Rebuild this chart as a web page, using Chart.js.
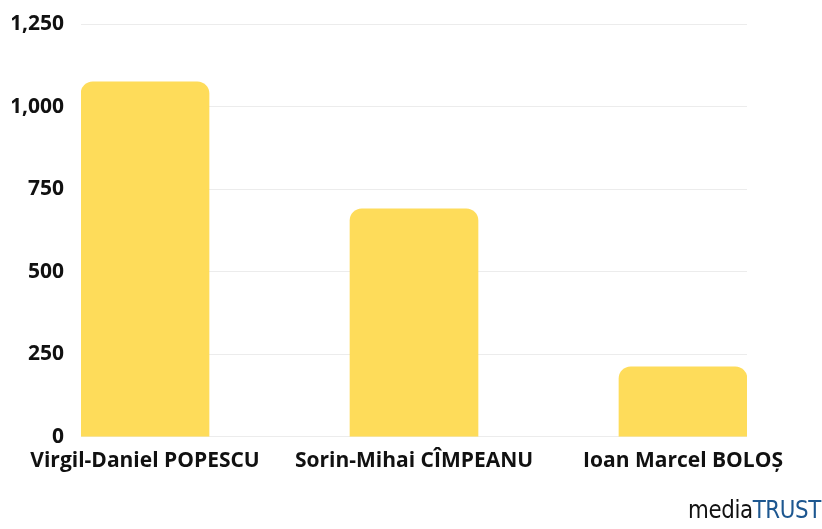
<!DOCTYPE html>
<html lang="ro">
<head>
<meta charset="UTF-8">
<title>Bar chart</title>
<script src="https://cdn.jsdelivr.net/npm/chart.js"></script>
<style>
  html, body { margin: 0; padding: 0; background: #fff; }
  .wrap { position: relative; width: 822px; height: 529px; }
  .logo {
    position: absolute;
    right: 1px;
    bottom: 7px;
    font-family: "Liberation Sans Narrow", "DejaVu Sans Condensed", sans-serif;
    font-size: 25px;
    line-height: 1;
    color: #111;
    letter-spacing: -0.4px;
    transform: scaleX(0.95);
    transform-origin: right bottom;
  }
  .logo span { color: #1d5790; }
</style>
</head>
<body>
<div class="wrap">
  <canvas id="chart" width="822" height="529"></canvas>
  <div class="logo">media<span>TRUST</span></div>
</div>
<script>
const candidates = ['Virgil-Daniel POPESCU', 'Sorin-Mihai CÎMPEANU', 'Ioan Marcel BOLOŞ'];
const votes = [1075, 690, 212];
const yTicks = [0, 250, 500, 750, 1000, 1250];

const font = { family: "'Open Sans', sans-serif", size: 21, weight: 'bold' };

new Chart(document.getElementById('chart'), {
  type: 'bar',
  data: {
    datasets: [{
      data: votes.map((v, i) => ({ x: i, y: v })),
      backgroundColor: '#fedc5a',
      borderRadius: 12,
      borderSkipped: 'start',
      barThickness: 128
    }]
  },
  options: {
    responsive: false,
    animation: false,
    layout: { padding: { top: 24, right: 75, bottom: 51, left: 12 } },
    plugins: { legend: { display: false }, tooltip: { enabled: false } },
    scales: {
      x: {
        type: 'linear',
        offset: false,
        min: -0.238,
        max: candidates.length - 1 + 0.238,
        grid: { display: false, offset: false },
        border: { display: false },
        afterFit: s => { s.paddingLeft = 0; s.paddingRight = 0; },
        ticks: {
          stepSize: 1,
          includeBounds: false,
          autoSkip: false,
          maxRotation: 0,
          padding: 4,
          color: '#111',
          font,
          callback: v => Number.isInteger(v) ? candidates[v] : ''
        }
      },
      y: {
        min: 0,
        max: yTicks[yTicks.length - 1],
        afterBuildTicks: axis => { axis.ticks = yTicks.map(v => ({ value: v })); },
        afterFit: s => { s.width = 69; s.paddingTop = 0; s.paddingBottom = 0; },
        grid: { color: '#ececec', drawTicks: false, lineWidth: 1 },
        border: { display: false },
        ticks: {
          padding: 17,
          color: '#111',
          font,
          callback: v => v.toLocaleString('en-US')
        }
      }
    }
  }
});
</script>
</body>
</html>
